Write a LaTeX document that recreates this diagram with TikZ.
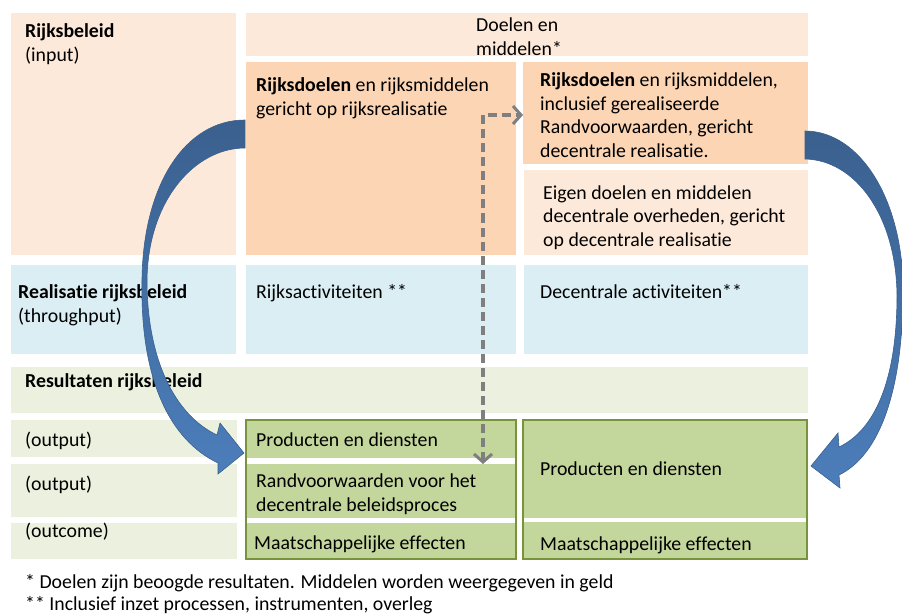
\documentclass[tikz,border=0pt]{standalone}
\usepackage{fontspec}
\setmainfont{Carlito}[Ligatures=NoCommon]
\usetikzlibrary{arrows.meta,fit}
\definecolor{oranjeLicht}{RGB}{253,233,217}
\definecolor{oranje}{RGB}{252,213,180}
\definecolor{blauwLicht}{RGB}{218,238,243}
\definecolor{groenLicht}{RGB}{235,241,222}
\definecolor{groen}{RGB}{195,214,155}
\definecolor{groenRand}{RGB}{119,147,60}
\definecolor{grijs}{RGB}{127,127,127}
\definecolor{pijlDonker}{RGB}{58,96,142}
\definecolor{pijlBlauw}{RGB}{76,126,187}
\begin{document}
\begin{tikzpicture}[x=1pt, y=-1pt,
  vak/.style={anchor=north west, inner sep=0pt, outer sep=0pt},
  tekst/.style={anchor=base west, inner sep=0pt, align=left, font=\fontsize{19.8}{23.5}\selectfont},
  kader/.style={draw=groenRand, line width=2.5pt, inner sep=0pt},
  stippel/.style={draw=grijs, line width=3.2pt, dash pattern=on 9pt off 5pt,
    {Straight Barb[length=8pt,width=18pt,line width=3pt]}-{Straight Barb[length=8pt,width=18pt,line width=3pt]}},
  pijl/.style={draw=pijlDonker, line width=0.6pt, top color=pijlDonker, bottom color=pijlBlauw}]
\useasboundingbox (0,0) rectangle (902,614);
% Vakken
\node [vak, fill=oranjeLicht, minimum width=225pt, minimum height=242pt] (beleid) at (11,13) {};
\node [vak, fill=oranjeLicht, minimum width=562pt, minimum height=43pt] (doelen) at (246,13) {};
\node [vak, fill=oranje, minimum width=270pt, minimum height=193pt] (rdoel) at (246,62) {};
\node [vak, fill=oranje, minimum width=285pt, minimum height=102pt] (rdoelR) at (523,62) {};
\node [vak, fill=oranjeLicht, minimum width=284pt, minimum height=85pt] (eigen) at (524,170) {};
\node [vak, fill=blauwLicht, minimum width=225pt, minimum height=89pt] (realL) at (11,265) {};
\node [vak, fill=blauwLicht, minimum width=270pt, minimum height=89pt] (realM) at (246,265) {};
\node [vak, fill=blauwLicht, minimum width=284pt, minimum height=89pt] (realR) at (524,265) {};
\node [vak, fill=groenLicht, minimum width=797pt, minimum height=46pt] (result) at (11,367) {};
\node [vak, fill=groenLicht, minimum width=226pt, minimum height=37pt] (outp1) at (11,420) {};
\node [vak, fill=groenLicht, minimum width=226pt, minimum height=53pt] (outp2) at (11,464) {};
\node [vak, fill=groenLicht, minimum width=226pt, minimum height=36pt] (outc) at (11,523) {};
\node [vak, fill=groen, minimum width=270pt, minimum height=38pt] (prod) at (246,420) {};
\node [vak, fill=groen, minimum width=270pt, minimum height=54pt] (randv) at (246,464) {};
\node [vak, fill=groen, minimum width=270pt, minimum height=36pt] (maat) at (246,523) {};
\node [vak, fill=groen, minimum width=284pt, minimum height=98pt] (prodR) at (523,420) {};
\node [vak, fill=groen, minimum width=284pt, minimum height=37pt] (maatR) at (523,522) {};
\node [kader, fit=(prod)(maat)] (kaderM) {};
\node [kader, fit=(prodR)(maatR)] (kaderR) {};
% Teksten (base = laatste regel)
\node [tekst] (beleidT) at (25,61) {\textbf{Rijksbeleid}\\(input)};
\node [tekst] (doelenT) at (476,55) {Doelen en\\middelen*};
\node [tekst] (rdoelT) at (256,115) {\textbf{Rijksdoelen} en rijksmiddelen\\gericht op rijksrealisatie};
\node [tekst] (rdoelRT) at (540,157) {\textbf{Rijksdoelen} en rijksmiddelen,\\inclusief gerealiseerde\\Randvoorwaarden, gericht\\decentrale realisatie.};
\node [tekst] (eigenT) at (543,246) {Eigen doelen en middelen\\decentrale overheden, gericht\\op decentrale realisatie};
\node [tekst] (realLT) at (18,322) {\textbf{Realisatie rijksbeleid}\\(throughput)};
\node [tekst] (realMT) at (256,298) {Rijksactiviteiten **};
\node [tekst] (realRT) at (540,298) {Decentrale activiteiten**};
\node [tekst] (resultT) at (25,387) {\textbf{Resultaten rijksbeleid}};
\node [tekst] (outp1T) at (25,446) {(output)};
\node [tekst] (outp2T) at (25,490) {(output)};
\node [tekst] (outcT) at (25,537) {(outcome)};
\node [tekst] (prodT) at (256,446) {Producten en diensten};
\node [tekst] (randvT) at (256,511) {Randvoorwaarden voor het\\decentrale beleidsproces};
\node [tekst] (maatT) at (254,549) {Maatschappelijke effecten};
\node [tekst] (prodRT) at (540,475) {Producten en diensten};
\node [tekst] (maatRT) at (540,550) {Maatschappelijke effecten};
\node [tekst] (noot1) at (25,588) {* Doelen zijn beoogde resultaten. Middelen worden weergegeven in geld};
\node [tekst] (noot2) at (25,610) {** Inclusief inzet processen, instrumenten, overleg};
% Pijlen
\coordinate (knik) at (483,115);
\draw [stippel] (randv.north -| knik) |- (rdoelR.west |- knik);
\path [pijl] (245,120) .. controls (185,120) and (143,185) .. (142,280)
  .. controls (140,380) and (170,440) .. (218,463)
  -- (218,474) -- (244,453) -- (220,423) -- (217,435)
  .. controls (175,415) and (147,360) .. (147,280)
  .. controls (148,200) and (195,148) .. (245,148) -- cycle;
\path [pijl] (805,131) .. controls (860,131) and (903,200) .. (903,290)
  .. controls (903,390) and (880,455) .. (839,475)
  -- (840,488) -- (811,466) -- (838,433) -- (839,447)
  .. controls (875,430) and (897,380) .. (897,295)
  .. controls (896,215) and (855,160) .. (805,159) -- cycle;
\end{tikzpicture}
\end{document}
